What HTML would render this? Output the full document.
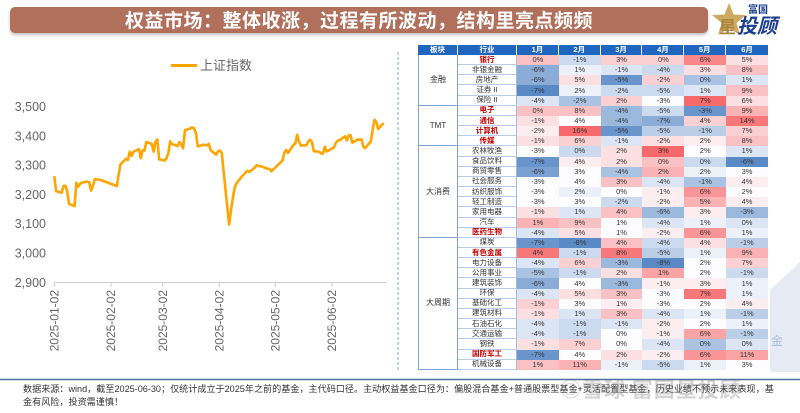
<!DOCTYPE html>
<html><head><meta charset="utf-8">
<style>
html,body{margin:0;padding:0;background:#fff;}
body{width:800px;height:413px;position:relative;overflow:hidden;font-family:"Liberation Sans","Noto Sans CJK SC",sans-serif;}
.title{position:absolute;left:10px;top:7px;width:698px;height:26px;background:#b0705b;border-radius:5px;box-shadow:0 2px 3px rgba(0,0,0,0.25);color:#fff;font-weight:bold;font-size:19px;line-height:26px;text-align:center;letter-spacing:0.5px;font-family:"Noto Sans CJK SC",sans-serif;}
svg.main{position:absolute;left:0;top:0;}
table{position:absolute;left:418px;top:45px;width:350px;border-collapse:separate;border-spacing:0;table-layout:fixed;font-family:"Liberation Sans","Noto Sans CJK SC",sans-serif;}
td,th{padding:0;margin:0;text-align:center;vertical-align:middle;font-size:7.5px;line-height:8px;color:#333;white-space:nowrap;overflow:hidden;}
th{background:#1f66c1;color:#fff;font-weight:bold;font-size:7.5px;border-right:1px solid #fff;}
th:last-child{border-right:none;}
tr{height:10.16px;}
tr.h{height:10px;}
td.seg{border-left:1px solid #7ea1d6;border-right:1px solid #7ea1d6;border-bottom:1px solid #7ea1d6;font-size:8px;background:#fff;}
td.ind{border-right:1px solid #9fbbe3;border-bottom:1px solid #b9cdeb;background:#fff;}
td.red{color:#c00000;font-weight:bold;}
.w{background:#fdfdff}
.r1{background:#fcedf0}.r2{background:#fbdfe1}.r3{background:#fbd0d3}.r4{background:#fac1c4}.r5{background:#fab2b5}.r6{background:#faa4a6}.r7{background:#f99597}.r8{background:#f98689}.r9{background:#f8787a}.r10{background:#f8696b}
.b1{background:#ecf1f9}.b2{background:#dce5f4}.b3{background:#cbdaee}.b4{background:#bbcee8}.b5{background:#abc3e3}.b6{background:#9bb8dd}.b7{background:#8bacd7}.b8{background:#7aa1d1}.b9{background:#6a95cc}.b10{background:#5a8ac6}
.foot{position:absolute;left:23px;top:383px;font-size:9.1px;line-height:13px;color:#333;white-space:nowrap;font-family:"Liberation Sans","Noto Sans CJK SC",sans-serif;}
.wm{position:absolute;left:560px;top:374px;font-size:21px;font-weight:bold;color:rgba(110,110,110,0.3);font-family:"Noto Sans CJK SC",sans-serif;white-space:nowrap;letter-spacing:1px;}
</style></head><body>

<div class="title">权益市场：整体收涨，过程有所波动，结构里亮点频频</div>

<svg class="main" width="800" height="413" viewBox="0 0 800 413" xmlns="http://www.w3.org/2000/svg">
  <!-- logo -->
  <polygon points="729,3 733.5,14.5 746,15 736.5,23 740,35 729,28 718,35 721.5,23 712,15 724.5,14.5" fill="#cdaa62"/>
  <text x="719" y="33" font-size="17" font-weight="bold" fill="#a9843c" font-family="Noto Sans CJK SC,sans-serif">星</text>
  <text x="748" y="13" font-size="10" font-weight="bold" fill="#1d3f8f" font-family="Noto Sans CJK SC,sans-serif">富国</text>
  <text x="737" y="33" font-size="20" font-weight="bold" font-style="italic" fill="#1d3f8f" font-family="Noto Sans CJK SC,sans-serif">投顾</text>

  <!-- legend -->
  <line x1="171" y1="65.5" x2="197" y2="65.5" stroke="#ffa500" stroke-width="3"/>
  <text x="200" y="70" font-size="13" fill="#666" font-family="Liberation Sans,Noto Sans CJK SC,sans-serif">上证指数</text>

  <!-- y labels -->
  <g font-size="12.5" fill="#666" text-anchor="end" font-family="Liberation Sans,sans-serif">
    <text x="46" y="111">3,500</text>
    <text x="46" y="140.3">3,400</text>
    <text x="46" y="169.6">3,300</text>
    <text x="46" y="198.9">3,200</text>
    <text x="46" y="228.2">3,100</text>
    <text x="46" y="257.5">3,000</text>
    <text x="46" y="286.8">2,900</text>
  </g>
  <!-- x axis -->
  <line x1="54" y1="282.5" x2="386" y2="282.5" stroke="#ccc" stroke-width="1"/>
  <g stroke="#ccc" stroke-width="1">
    <line x1="54.3" y1="282.5" x2="54.3" y2="287"/>
    <line x1="111" y1="282.5" x2="111" y2="287"/>
    <line x1="162.7" y1="282.5" x2="162.7" y2="287"/>
    <line x1="219.3" y1="282.5" x2="219.3" y2="287"/>
    <line x1="275.3" y1="282.5" x2="275.3" y2="287"/>
    <line x1="332" y1="282.5" x2="332" y2="287"/>
  </g>
  <g font-size="12" fill="#666" text-anchor="end" font-family="Liberation Sans,sans-serif">
    <text transform="translate(58.5,290) rotate(-90)">2025-01-02</text>
    <text transform="translate(115.2,290) rotate(-90)">2025-02-02</text>
    <text transform="translate(166.9,290) rotate(-90)">2025-03-02</text>
    <text transform="translate(223.5,290) rotate(-90)">2025-04-02</text>
    <text transform="translate(279.5,290) rotate(-90)">2025-05-02</text>
    <text transform="translate(336.2,290) rotate(-90)">2025-06-02</text>
  </g>

  <!-- series -->
  <g transform="translate(54.3,282.3) scale(1.84,-0.2927)">
    <polyline fill="none" stroke="#ffa500" stroke-width="2.6" stroke-linejoin="round" vector-effect="non-scaling-stroke"
      points="0,362.6 1,311 4,306 5,329 6,330 7,311 8,268 11,260 12,340 13,327 14,336 15,341 18,344 19,342 20,313 21,330 22,352 25,350 34,329 35,370 36,403 39,422 40,418 41,446 42,432 43,446 46,455 47,424 48,451 49,450 50,479 53,473 54,446 55,480 56,488 57,420 60,416 61,424 62,442 63,481 64,472 67,466 68,479 69,471 70,458 71,519 74,526 75,529 76,526 77,508 78,464 81,470 82,469 83,468 84,473 85,451 88,436 89,448 90,450 91,442 95,197 96,245 97,286 98,323 99,338 102,362 103,368 104,376 105,381 106,377 109,392 110,400 111,397 112,397 113,395 116,388 117,387 118,379 124,416 125,443 126,452 127,442 130,470 131,474 132,504 133,480 134,467 137,468 138,481 139,487 140,480 141,448 144,446 145,440 146,440 147,463 148,447 152,461 153,476 154,484 155,485 158,499 159,485 160,502 161,503 162,477 165,488 166,487 167,488 168,462 169,459 172,481 173,520 174,555 175,548 176,524 179,544"/>
  </g>

  <!-- dashed divider -->
  <line x1="398" y1="52" x2="398" y2="372" stroke="#8aa4c8" stroke-width="1" stroke-dasharray="3,2"/>
  <!-- watermark shape right -->
  <polygon points="770,290 800,262 800,372 770,372" fill="#e6ebf3"/>
  <text x="771" y="345" font-size="12" fill="#a7bbdc" font-family="Noto Sans CJK SC,sans-serif">金</text>
  <!-- bottom rule -->
  <line x1="0" y1="379.5" x2="800" y2="379.5" stroke="#4d6fa0" stroke-width="1.5"/>
</svg>

<table>
<colgroup><col style="width:40px"><col style="width:59px"><col style="width:41.83px"><col style="width:41.83px"><col style="width:41.83px"><col style="width:41.83px"><col style="width:41.83px"><col style="width:41.85px"></colgroup>
<tr class="h"><th>板块</th><th>行业</th><th>1月</th><th>2月</th><th>3月</th><th>4月</th><th>5月</th><th>6月</th></tr>
<tr><td class="seg" rowspan="5">金融</td><td class="ind red">银行</td><td class="r4">0%</td><td class="b3">-1%</td><td class="r3">3%</td><td class="r3">0%</td><td class="r8">6%</td><td class="r2">5%</td></tr>
<tr><td class="ind">非银金融</td><td class="b7">-6%</td><td class="b1">1%</td><td class="b2">-1%</td><td class="b3">-4%</td><td class="r2">3%</td><td class="r4">8%</td></tr>
<tr><td class="ind">房地产</td><td class="b7">-6%</td><td class="r2">5%</td><td class="b9">-5%</td><td class="r3">-2%</td><td class="b5">0%</td><td class="b2">1%</td></tr>
<tr><td class="ind">证券 II</td><td class="b10">-7%</td><td class="b1">2%</td><td class="b3">-2%</td><td class="b3">-5%</td><td class="b2">1%</td><td class="r4">9%</td></tr>
<tr><td class="ind">保险 II</td><td class="b2">-4%</td><td class="b5">-2%</td><td class="r3">2%</td><td class="w">-3%</td><td class="r10">7%</td><td class="r2">6%</td></tr>
<tr><td class="seg" rowspan="4">TMT</td><td class="ind red">电子</td><td class="r4">0%</td><td class="r4">8%</td><td class="b6">-4%</td><td class="b3">-5%</td><td class="b9">-3%</td><td class="r5">9%</td></tr>
<tr><td class="ind red">通信</td><td class="r2">-1%</td><td class="w">4%</td><td class="b6">-4%</td><td class="b7">-7%</td><td class="r3">4%</td><td class="r9">14%</td></tr>
<tr><td class="ind red">计算机</td><td class="r1">-2%</td><td class="r10">16%</td><td class="b9">-5%</td><td class="b4">-5%</td><td class="b4">-1%</td><td class="r3">7%</td></tr>
<tr><td class="ind red">传媒</td><td class="r2">-1%</td><td class="r3">6%</td><td class="b2">-1%</td><td class="r2">-2%</td><td class="r1">2%</td><td class="r4">8%</td></tr>
<tr><td class="seg" rowspan="9">大消费</td><td class="ind">农林牧渔</td><td class="w">-3%</td><td class="b3">0%</td><td class="r2">2%</td><td class="r10">3%</td><td class="w">2%</td><td class="b2">1%</td></tr>
<tr><td class="ind">食品饮料</td><td class="b9">-7%</td><td class="r1">4%</td><td class="r2">2%</td><td class="r4">0%</td><td class="b3">0%</td><td class="b10">-6%</td></tr>
<tr><td class="ind">商贸零售</td><td class="b8">-6%</td><td class="w">3%</td><td class="b5">-4%</td><td class="r5">2%</td><td class="b1">2%</td><td class="w">3%</td></tr>
<tr><td class="ind">社会服务</td><td class="w">-3%</td><td class="w">4%</td><td class="r4">3%</td><td class="b2">-4%</td><td class="b5">-1%</td><td class="r1">4%</td></tr>
<tr><td class="ind">纺织服饰</td><td class="w">-3%</td><td class="b1">2%</td><td class="w">0%</td><td class="r1">-1%</td><td class="r7">6%</td><td class="w">2%</td></tr>
<tr><td class="ind">轻工制造</td><td class="w">-3%</td><td class="w">3%</td><td class="b3">-2%</td><td class="r1">-2%</td><td class="r5">5%</td><td class="r1">4%</td></tr>
<tr><td class="ind">家用电器</td><td class="r2">-1%</td><td class="b2">1%</td><td class="r4">4%</td><td class="b6">-6%</td><td class="r1">3%</td><td class="b6">-3%</td></tr>
<tr><td class="ind">汽车</td><td class="r5">1%</td><td class="r4">9%</td><td class="w">1%</td><td class="b2">-4%</td><td class="b1">1%</td><td class="b2">0%</td></tr>
<tr><td class="ind red">医药生物</td><td class="b2">-4%</td><td class="r2">5%</td><td class="w">1%</td><td class="r1">-2%</td><td class="r7">6%</td><td class="b1">1%</td></tr>
<tr><td class="seg" rowspan="13">大周期</td><td class="ind">煤炭</td><td class="b9">-7%</td><td class="b10">-8%</td><td class="r4">4%</td><td class="b3">-4%</td><td class="r2">4%</td><td class="b4">-1%</td></tr>
<tr><td class="ind red">有色金属</td><td class="r9">4%</td><td class="b3">-1%</td><td class="r9">8%</td><td class="b4">-5%</td><td class="b1">1%</td><td class="r5">9%</td></tr>
<tr><td class="ind">电力设备</td><td class="b2">-4%</td><td class="r3">6%</td><td class="b6">-3%</td><td class="b10">-8%</td><td class="w">2%</td><td class="r3">7%</td></tr>
<tr><td class="ind">公用事业</td><td class="b5">-5%</td><td class="b3">-1%</td><td class="r2">2%</td><td class="r6">1%</td><td class="w">2%</td><td class="b3">-1%</td></tr>
<tr><td class="ind">建筑装饰</td><td class="b7">-6%</td><td class="w">4%</td><td class="b6">-3%</td><td class="r1">-1%</td><td class="r1">3%</td><td class="b1">1%</td></tr>
<tr><td class="ind">环保</td><td class="b2">-4%</td><td class="r2">5%</td><td class="r4">3%</td><td class="w">-3%</td><td class="r9">7%</td><td class="b1">1%</td></tr>
<tr><td class="ind">基础化工</td><td class="r3">-1%</td><td class="w">3%</td><td class="r1">1%</td><td class="w">-3%</td><td class="w">2%</td><td class="r1">4%</td></tr>
<tr><td class="ind">建筑材料</td><td class="r2">-1%</td><td class="b2">1%</td><td class="r4">3%</td><td class="b2">-4%</td><td class="b1">1%</td><td class="b4">-1%</td></tr>
<tr><td class="ind">石油石化</td><td class="b2">-4%</td><td class="b3">-1%</td><td class="b2">-1%</td><td class="r1">-2%</td><td class="w">2%</td><td class="b1">1%</td></tr>
<tr><td class="ind">交通运输</td><td class="b2">-4%</td><td class="b3">-1%</td><td class="w">0%</td><td class="r1">-1%</td><td class="r6">6%</td><td class="b4">-1%</td></tr>
<tr><td class="ind">钢铁</td><td class="r2">-1%</td><td class="r3">7%</td><td class="w">0%</td><td class="b2">-4%</td><td class="b5">0%</td><td class="b2">0%</td></tr>
<tr><td class="ind red">国防军工</td><td class="b9">-7%</td><td class="w">4%</td><td class="r2">2%</td><td class="r1">-2%</td><td class="r7">6%</td><td class="r6">11%</td></tr>
<tr><td class="ind">机械设备</td><td class="r4">1%</td><td class="r5">11%</td><td class="b1">-1%</td><td class="b3">-5%</td><td class="b1">1%</td><td class="w">3%</td></tr>
</table>

<div class="foot">数据来源：wind，截至2025-06-30；仅统计成立于2025年之前的基金，主代码口径。主动权益基金口径为：偏股混合基金+普通股票型基金+灵活配置型基金，历史业绩不预示未来表现，基<br>金有风险，投资需谨慎！</div>
<div class="wm">◎雪球 富国星投顾</div>

</body></html>
